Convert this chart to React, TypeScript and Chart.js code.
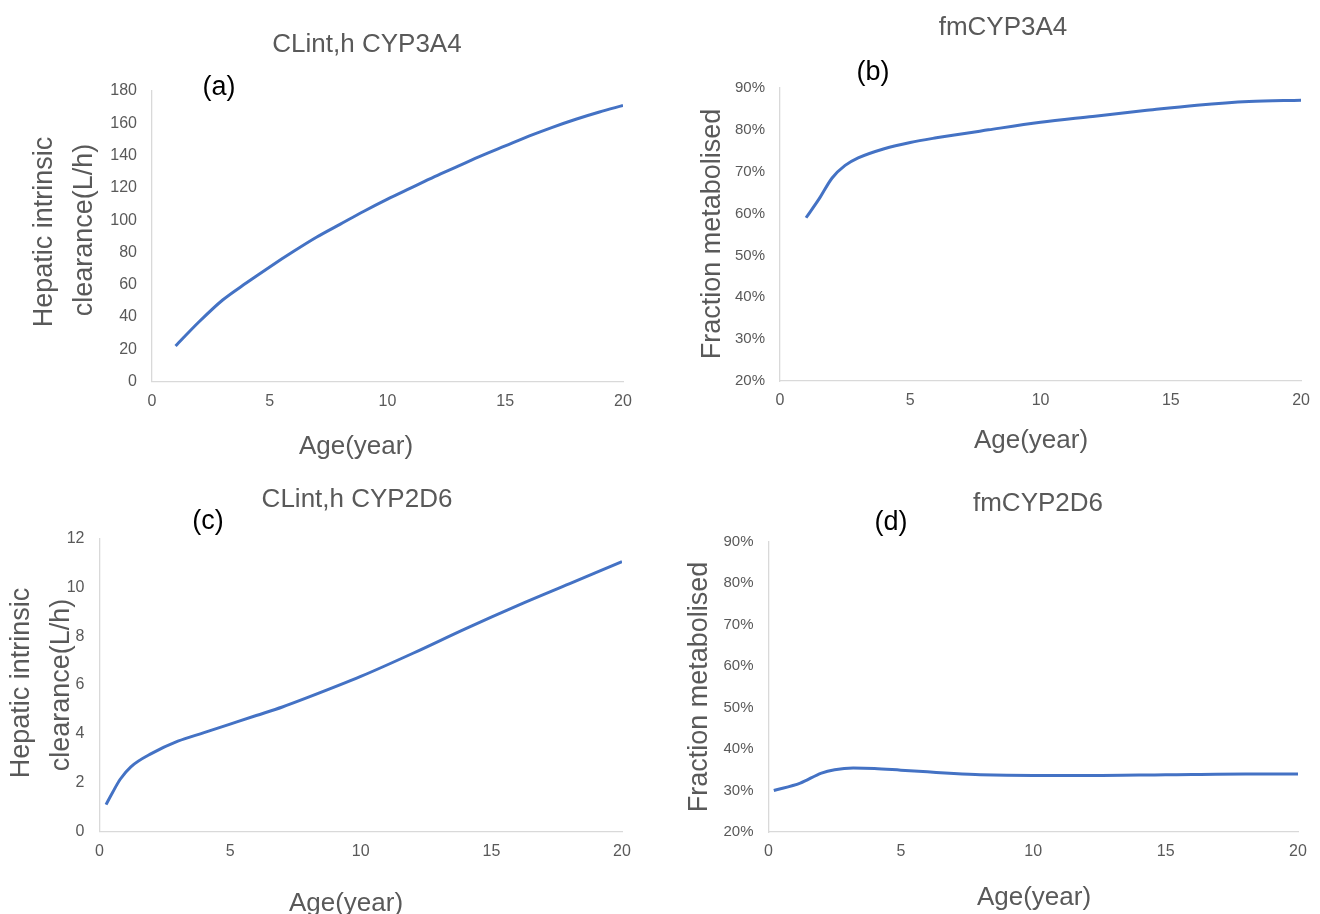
import React, { useEffect, useRef } from "react";
import { Chart, registerables } from "chart.js";

Chart.register(...registerables);

// ---------- data ----------
const agesA = [1, 2, 3, 4, 5, 6, 7, 8, 9, 10, 11, 12, 13, 14, 15, 16, 17, 18, 19, 20];
const clintCYP3A4 = [22, 37, 50.5, 61, 71, 80.5, 89.5, 97.5, 105.5, 113, 120, 127, 133.5, 140, 146, 152, 157.5, 162.5, 167, 171];

const agesB = [1, 1.5, 2, 2.5, 3, 4, 5, 6, 8, 10, 12, 14, 16, 18, 20];
const fmCYP3A4 = [0.59, 0.635, 0.685, 0.715, 0.733, 0.755, 0.77, 0.781, 0.8, 0.818, 0.832, 0.846, 0.859, 0.868, 0.871];

const agesC = [0.25, 0.5, 0.8, 1.2, 2, 3, 4, 5, 6, 7, 8, 10, 12, 14, 16, 18, 20];
const clintCYP2D6 = [1.1, 1.6, 2.15, 2.65, 3.2, 3.7, 4.05, 4.4, 4.75, 5.1, 5.5, 6.35, 7.3, 8.3, 9.25, 10.15, 11.05];

const agesD = [0.2, 1.2, 2, 2.5, 3.2, 4, 5, 6, 7, 8, 10, 12, 15, 18, 20];
const fmCYP2D6 = [0.3, 0.318, 0.342, 0.35, 0.354, 0.353, 0.349, 0.345, 0.341, 0.338, 0.336, 0.336, 0.338, 0.34, 0.34];

const titles = ["CLint,h CYP3A4", "fmCYP3A4", "CLint,h CYP2D6", "fmCYP2D6"];
const panelLabels = ["(a)", "(b)", "(c)", "(d)"];
const xTitle = "Age(year)";
const yTitleClint = ["Hepatic intrinsic", "clearance(L/h)"];
const yTitleFm = "Fraction metabolised";

const FONT = '"Liberation Sans", Arial, sans-serif';
const GREY = "#595959";
const LINE = "#4472C4";

type TextItem = { text: string; x: number; y: number; size: number; color: string; rotate?: boolean };
type Box = { left: number; top: number; w: number; h: number };
type Area = { l: number; t: number; r: number; b: number };

interface PanelProps {
  box: Box;
  area: Area;
  xs: number[];
  ys: number[];
  yMin: number;
  yMax: number;
  yStep: number;
  percent?: boolean;
  texts: TextItem[];
}

function Panel({ box, area, xs, ys, yMin, yMax, yStep, percent, texts }: PanelProps) {
  const ref = useRef<HTMLCanvasElement | null>(null);
  useEffect(() => {
    if (!ref.current) return;
    const XH = 30;
    const YW = area.l - box.left;
    const textPlugin = {
      id: "panelTexts",
      afterDraw(chart: any) {
        const ctx = chart.ctx as CanvasRenderingContext2D;
        ctx.save();
        for (const t of texts) {
          ctx.font = `${t.size}px ${FONT}`;
          ctx.fillStyle = t.color;
          ctx.textAlign = "center";
          ctx.save();
          ctx.translate(t.x - box.left, t.y - box.top);
          if (t.rotate) {
            ctx.rotate(-Math.PI / 2);
            ctx.textBaseline = "middle";
          } else {
            ctx.textBaseline = "alphabetic";
          }
          ctx.fillText(t.text, 0, 0);
          ctx.restore();
        }
        ctx.restore();
      },
    };
    const chart = new Chart(ref.current, {
      type: "line",
      data: {
        datasets: [
          {
            data: xs.map((x, i) => ({ x, y: ys[i] })),
            borderColor: LINE,
            backgroundColor: LINE,
            borderWidth: 3,
            pointRadius: 0,
            fill: false,
            cubicInterpolationMode: "monotone",
          },
        ],
      },
      options: {
        responsive: false,
        animation: false,
        devicePixelRatio: 1,
        layout: {
          padding: {
            left: 0,
            top: area.t - box.top,
            right: box.left + box.w - area.r,
            bottom: box.top + box.h - area.b - XH,
          },
        },
        plugins: {
          legend: { display: false },
          tooltip: { enabled: false },
          title: { display: false },
        },
        scales: {
          x: {
            type: "linear",
            min: 0,
            max: 20,
            grid: { display: false, drawTicks: false },
            border: { display: true, color: "#D9D9D9", width: 1.3 },
            ticks: {
              stepSize: 5,
              padding: 10,
              color: GREY,
              font: { family: FONT, size: 16 },
              maxRotation: 0,
            },
            afterFit: (s: any) => {
              s.height = XH;
            },
          },
          y: {
            type: "linear",
            min: yMin,
            max: yMax,
            grid: { display: false, drawTicks: false },
            border: { display: true, color: "#D9D9D9", width: 1.3 },
            ticks: {
              stepSize: yStep,
              padding: 15,
              color: GREY,
              font: { family: FONT, size: percent ? 15 : 16 },
              callback: (v: any) => (percent ? `${Math.round(Number(v) * 100)}%` : `${Math.round(Number(v))}`),
            },
            afterFit: (s: any) => {
              s.width = YW;
            },
          },
        },
      } as any,
      plugins: [textPlugin],
    });
    return () => chart.destroy();
  }, []);
  return (
    <canvas
      ref={ref}
      width={box.w}
      height={box.h}
      style={{ position: "absolute", left: box.left, top: box.top, width: box.w, height: box.h }}
    />
  );
}

export default function App() {
  return (
    <div style={{ position: "absolute", left: 0, top: 0, width: 1320, height: 914, background: "#fff", overflow: "hidden" }}>
      <Panel
        box={{ left: 0, top: 0, w: 660, h: 460 }}
        area={{ l: 152, t: 91, r: 623, b: 381.5 }}
        xs={agesA}
        ys={clintCYP3A4}
        yMin={0}
        yMax={180}
        yStep={20}
        texts={[
          { text: titles[0], x: 367, y: 52, size: 26, color: GREY },
          { text: panelLabels[0], x: 219, y: 95, size: 27, color: "#000" },
          { text: yTitleClint[0], x: 45, y: 232, size: 27, color: GREY, rotate: true },
          { text: yTitleClint[1], x: 85, y: 230, size: 27, color: GREY, rotate: true },
          { text: xTitle, x: 356, y: 454, size: 26, color: GREY },
        ]}
      />
      <Panel
        box={{ left: 660, top: 0, w: 660, h: 460 }}
        area={{ l: 780, t: 88, r: 1309, b: 381 }}
        xs={agesB}
        ys={fmCYP3A4}
        yMin={0.2}
        yMax={0.9}
        yStep={0.1}
        percent
        texts={[
          { text: titles[1], x: 1003, y: 35, size: 26, color: GREY },
          { text: panelLabels[1], x: 873, y: 80, size: 27, color: "#000" },
          { text: yTitleFm, x: 713, y: 234, size: 27, color: GREY, rotate: true },
          { text: xTitle, x: 1031, y: 448, size: 26, color: GREY },
        ]}
      />
      <Panel
        box={{ left: 0, top: 460, w: 660, h: 454 }}
        area={{ l: 99.5, t: 538.5, r: 622, b: 831.5 }}
        xs={agesC}
        ys={clintCYP2D6}
        yMin={0}
        yMax={12}
        yStep={2}
        texts={[
          { text: titles[2], x: 357, y: 507, size: 26, color: GREY },
          { text: panelLabels[2], x: 208, y: 529, size: 27, color: "#000" },
          { text: yTitleClint[0], x: 22, y: 683, size: 27, color: GREY, rotate: true },
          { text: yTitleClint[1], x: 62, y: 685, size: 27, color: GREY, rotate: true },
          { text: xTitle, x: 346, y: 911, size: 26, color: GREY },
        ]}
      />
      <Panel
        box={{ left: 660, top: 460, w: 660, h: 454 }}
        area={{ l: 768.5, t: 541.5, r: 1298, b: 832 }}
        xs={agesD}
        ys={fmCYP2D6}
        yMin={0.2}
        yMax={0.9}
        yStep={0.1}
        percent
        texts={[
          { text: titles[3], x: 1038, y: 511, size: 26, color: GREY },
          { text: panelLabels[3], x: 891, y: 530, size: 27, color: "#000" },
          { text: yTitleFm, x: 700, y: 687, size: 27, color: GREY, rotate: true },
          { text: xTitle, x: 1034, y: 905, size: 26, color: GREY },
        ]}
      />
    </div>
  );
}
